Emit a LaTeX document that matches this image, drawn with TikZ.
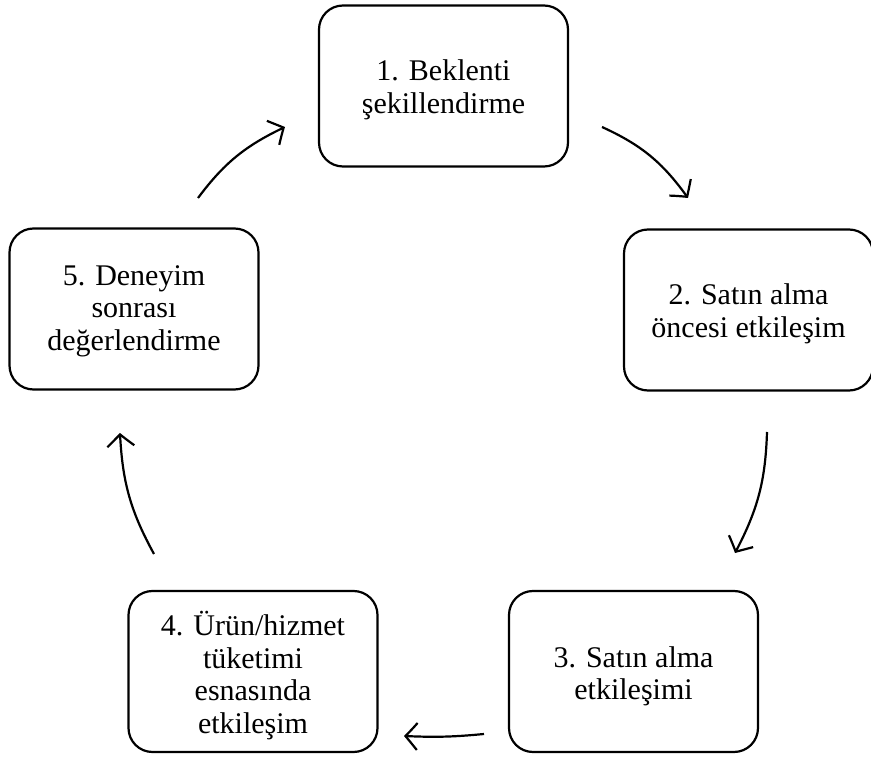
\documentclass[tikz,border=0pt]{standalone}
\usepackage{fontspec}
\setmainfont{Liberation Serif}
\usetikzlibrary{arrows.meta,bending}
\begin{document}
\begin{tikzpicture}[x=1pt,y=1pt,
  stagebox/.style={draw, line width=2.2pt, rounded corners=24pt,
    minimum width=249pt, minimum height=161pt},
  stagetext/.style={align=center, inner sep=0pt,
    font=\fontsize{30}{32.5}\selectfont},
  cyclearrow/.style={line width=2.2pt,
    -{Straight Barb[length=12pt,width=27pt,line width=2.2pt,bend]}}]
\useasboundingbox (0,0) rectangle (871,756);

% stages of the cycle: rounded frames
\node[stagebox] (s1) at (443.5,670) {};
\node[stagebox] (s2) at (748.5,446) {};
\node[stagebox] (s3) at (633.5,84.5) {};
\node[stagebox] (s4) at (253,84.5) {};
\node[stagebox] (s5) at (134,447) {};

% stage captions, set a little below the frame centres
\node[stagetext] (t1) at ([yshift=-4pt]s1.center) {1. Beklenti\\şekillendirme};
\node[stagetext] (t2) at ([yshift=-4pt]s2.center) {2. Satın alma\\öncesi etkileşim};
\node[stagetext] (t3) at ([yshift=-5pt]s3.center) {3. Satın alma\\etkileşimi};
\node[stagetext] (t4) at ([yshift=-4pt]s4.center) {4. Ürün/hizmet\\tüketimi\\esnasında\\etkileşim};
\node[stagetext] (t5) at ([yshift=-2pt]s5.center) {5. Deneyim\\sonrası\\değerlendirme};

% free-standing arrow ends
\coordinate (a12s) at (602,629);
\coordinate (a12e) at (688,558);
\coordinate (a23s) at (767,324);
\coordinate (a23e) at (735,203);
\coordinate (a34s) at (484,22);
\coordinate (a34e) at (404,20);
\coordinate (a45s) at (154,202);
\coordinate (a45e) at (120,323);
\coordinate (a51s) at (198,558);
\coordinate (a51e) at (285,629);

% clockwise arrows between the stages
\draw[cyclearrow] (a12s) to[bend left=15] (a12e);
\draw[cyclearrow] (a23s) to[bend left=13] (a23e);
\draw[cyclearrow] (a34s) to[bend left=4] (a34e);
\draw[cyclearrow] (a45s) to[bend left=13] (a45e);
\draw[cyclearrow] (a51s) to[bend left=14] (a51e);
\end{tikzpicture}
\end{document}
